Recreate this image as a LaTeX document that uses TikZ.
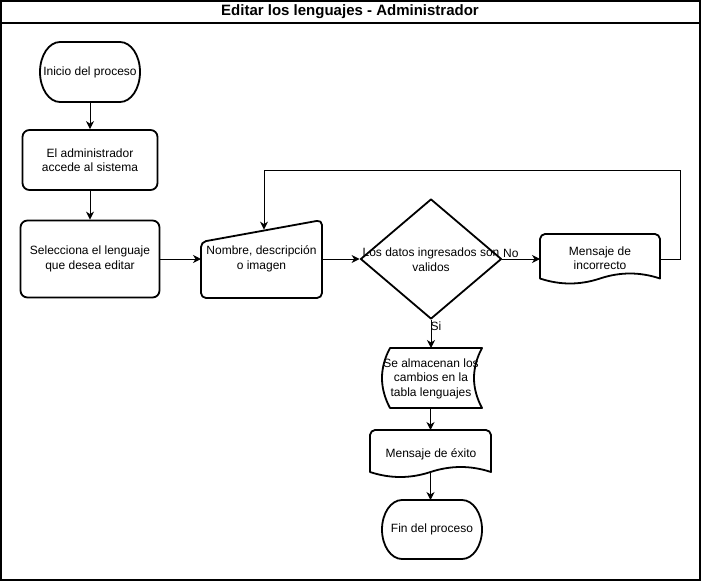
\documentclass[tikz,border=0pt]{standalone}
\usepackage{fontspec}
\setmainfont{Liberation Sans}
\usetikzlibrary{arrows.meta,shapes.geometric}
\begin{document}
\begin{tikzpicture}[x=1pt,y=-1pt,
  txt/.style={font=\fontsize{12}{14.5}\selectfont, align=center, inner sep=0pt},
  outl/.style={draw=black, line width=1.8pt, line join=round},
  proc/.style={outl, rounded corners=7pt, txt},
  box/.style={inner sep=0pt, outer sep=0pt},
  arr/.style={draw=black, line width=1pt, -{Stealth[length=8pt,width=8pt,inset=2.5pt]}},
]
\useasboundingbox (0,0) rectangle (701,581);
% frame and title bar
\draw[line width=1.5pt] (0.75,0.75) rectangle (700,580);
\draw[line width=1.5pt] (0.75,23) -- (700,23);
\node[font=\bfseries\fontsize{15}{18}\selectfont, inner sep=0pt] (title) at (350,11.5) {Editar los lenguajes - Administrador};

% start terminator
\node[box, txt, minimum width=100pt, minimum height=60pt] (start) at (90,72) {Inicio del proceso};
\draw[outl] (60,42) -- (120,42) arc[start angle=-90, end angle=90, x radius=20, y radius=30]
  -- (60,102) arc[start angle=90, end angle=270, x radius=20, y radius=30] -- cycle;

% process boxes
\node[proc, minimum width=135pt, minimum height=60pt] (acc) at (90,160) {El administrador\\accede al sistema};
\node[proc, minimum width=139pt, minimum height=77pt] (sel) at (90,259) {Selecciona el lenguaje\\que desea editar};

% manual input
\node[box, txt, minimum width=121pt, minimum height=78pt] (nom) at (261.5,259) {Nombre, descripción\\o imagen};
\draw[outl, rounded corners=5pt] (261.5,298) -- (201,298) -- (201,242) -- (322,220) -- (322,298) -- cycle;
\coordinate (loopend) at (264,229.6);

% decision
\node[diamond, outl, minimum width=141pt, minimum height=120pt, inner sep=0pt] (dec) at (431,259) {};
\node[txt] (dect) at (431,259.5) {Los datos ingresados son\\validos};

% document: incorrecto
\node[box, minimum width=120pt, minimum height=44.5pt] (inc) at (600,256.25) {};
\draw[outl] (540,278.5) -- (540,239) .. controls (540,236.24) and (542.76,234) .. (545,234)
  -- (655,234) .. controls (657.24,234) and (660,236.24) .. (660,239)
  -- (660,278.5) .. controls (640,271.83) and (620,271.83) .. (600,278.5)
  .. controls (580,285.17) and (560,285.17) .. (540,278.5) -- cycle;
\node[txt] (inctxt) at (600,258) {Mensaje de\\incorrecto};

% stored data
\node[box, minimum width=100pt, minimum height=60pt] (alm) at (432,378) {};
\draw[outl] (390,348) -- (482,348) .. controls (471.33,368) and (471.33,388) .. (482,408)
  -- (390,408) .. controls (379.33,388) and (379.33,368) .. (390,348) -- cycle;
\node[txt] (almtxt) at (431,378.5) {Se almacenan los\\cambios en la\\tabla lenguajes};

% document: exito
\node[box, minimum width=121pt, minimum height=42pt] (exi) at (430.5,451) {};
\draw[outl] (370,472) -- (370,435) .. controls (370,432.24) and (372.76,430) .. (375,430)
  -- (486,430) .. controls (488.24,430) and (491,432.24) .. (491,435)
  -- (491,472) .. controls (470.83,465.33) and (450.67,465.33) .. (430.5,472)
  .. controls (410.33,478.67) and (390.17,478.67) .. (370,472) -- cycle;
\node[txt] (exitxt) at (431,454) {Mensaje de éxito};

% end terminator
\node[box, txt, minimum width=100pt, minimum height=59pt] (fin) at (432,529.5) {Fin del proceso};
\draw[outl] (402,500) -- (462,500) arc[start angle=-90, end angle=90, x radius=20, y radius=29.5]
  -- (402,559) arc[start angle=90, end angle=270, x radius=20, y radius=29.5] -- cycle;

% connectors
\draw[arr] (start.south) -- (acc.north);
\draw[arr] (acc.south) -- (sel.north);
\draw[arr] (sel.east) -- (nom.west);
\draw[arr] (nom.east) -- (dec.west);
\draw[arr] (dec.east) -- (dec.east -| inc.west);
\node[txt, anchor=west] (no) at (503,253.5) {No};
\draw[arr] (dec.east -| inc.east) -- (680,259) -- (680,170) -- (264,170) -- (loopend);
\draw[arr] (dec.south) -- (dec.south |- alm.north);
\node[txt, anchor=west] (si) at (430.5,326) {Si};
\draw[arr] (exi.north |- alm.south) -- (exi.north);
\draw[arr] (exi.south) -- (exi.south |- fin.north);
\end{tikzpicture}
\end{document}
